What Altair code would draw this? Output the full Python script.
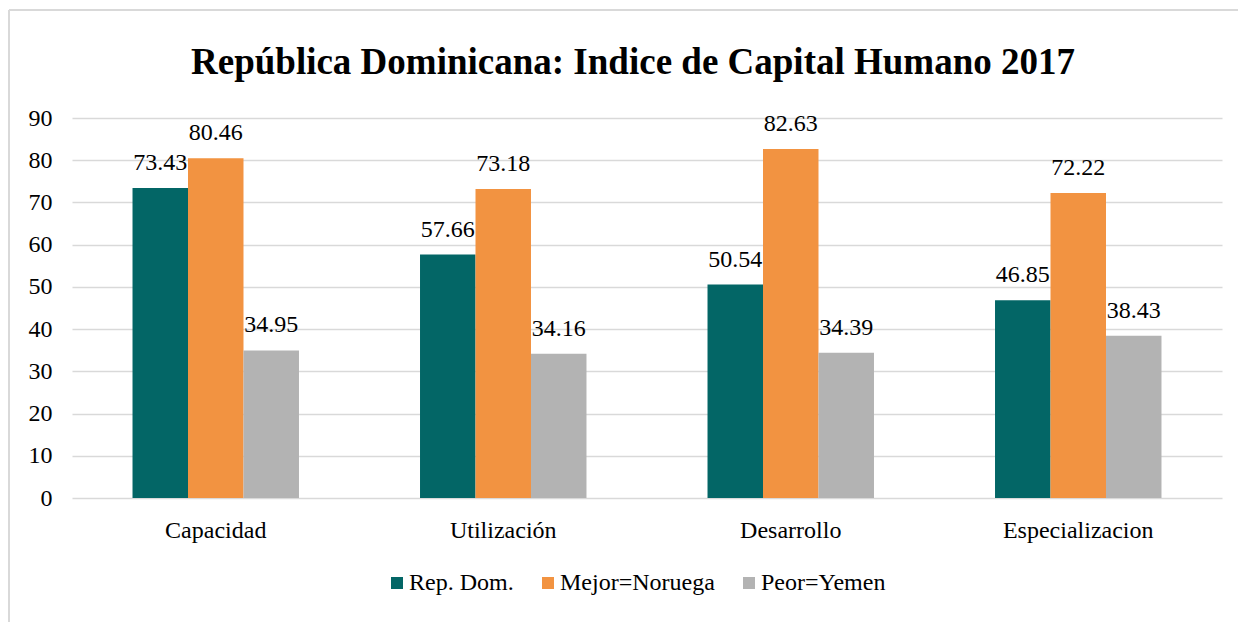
import altair as alt
import pandas as pd

categories = ["Capacidad", "Utilización", "Desarrollo", "Especializacion"]
series = ["Rep. Dom.", "Mejor=Noruega", "Peor=Yemen"]
rep_dom = [73.43, 57.66, 50.54, 46.85]
noruega = [80.46, 73.18, 82.63, 72.22]
yemen = [34.95, 34.16, 34.39, 38.43]
colors = ["#036666", "#f29341", "#b3b3b3"]
y_ticks = [0, 10, 20, 30, 40, 50, 60, 70, 80, 90]

rows = []
for s, vals in zip(series, [rep_dom, noruega, yemen]):
    for c, v in zip(categories, vals):
        rows.append({"categoria": c, "serie": s, "valor": v})
df = pd.DataFrame(rows)

FONT = "Liberation Serif, Times New Roman, serif"

x = alt.X("categoria:N", sort=categories, title=None,
          scale=alt.Scale(paddingInner=0.421, paddingOuter=0.2105),
          axis=alt.Axis(labelAngle=0, labelFontSize=24, labelFont=FONT, labelColor="#000000",
                        domain=False, ticks=False, labelPadding=20))
y = alt.Y("valor:Q", title=None, scale=alt.Scale(domain=[0, 90], nice=False),
          axis=alt.Axis(values=y_ticks, labelFontSize=24, labelFont=FONT, labelColor="#000000",
                        domain=False, ticks=False, labelPadding=20,
                        grid=True, gridColor="#d9d9d9", gridWidth=1.6))
xo = alt.XOffset("serie:N", sort=series, scale=alt.Scale(paddingInner=0, paddingOuter=0))
color = alt.Color("serie:N", sort=series, scale=alt.Scale(domain=series, range=colors),
                  legend=alt.Legend(title=None, orient="none", direction="horizontal",
                                    legendX=313, legendY=453, padding=0,
                                    symbolType="square", symbolSize=144, symbolStrokeWidth=0,
                                    labelFontSize=24, labelFont=FONT, labelColor="#000000",
                                    labelOffset=0, columnPadding=22, symbolOpacity=1))

bars = alt.Chart(df).mark_bar(opacity=1).encode(x=x, y=y, xOffset=xo, color=color)
labels = alt.Chart(df).mark_text(fontSize=24, font=FONT, color="#000000",
                                 baseline="alphabetic", dy=-18).encode(
    x=x, y=y, xOffset=xo, text=alt.Text("valor:Q", format=".2f"))

frame_left = alt.Chart(df).mark_rule(color="#d9d9d9", strokeWidth=2).encode(
    x=alt.value(-63), y=alt.value(-108), y2=alt.value(520))
frame_top = alt.Chart(df).mark_rule(color="#d9d9d9", strokeWidth=1.5).encode(
    x=alt.value(-63), x2=alt.value(1180), y=alt.value(-108))

chart = alt.layer(bars, labels, frame_left, frame_top).properties(
    width=1150, height=380,
    title=alt.Title("República Dominicana: Indice de Capital Humano 2017",
                    font=FONT, fontSize=37, fontWeight="bold", color="#000000",
                    anchor="middle", dx=-14, offset=-102, baseline="alphabetic"),
    autosize=alt.AutoSizeParams(type="none"),
    padding={"left": 64, "top": 110, "right": 16, "bottom": 124},
).configure(background="#ffffff", font=FONT
).configure_view(stroke=None
).configure_text(font=FONT
).configure_mark(font=FONT
).configure_legend(labelFont=FONT)

chart.save("out.html", embed_options={"renderer": "svg", "actions": False})
